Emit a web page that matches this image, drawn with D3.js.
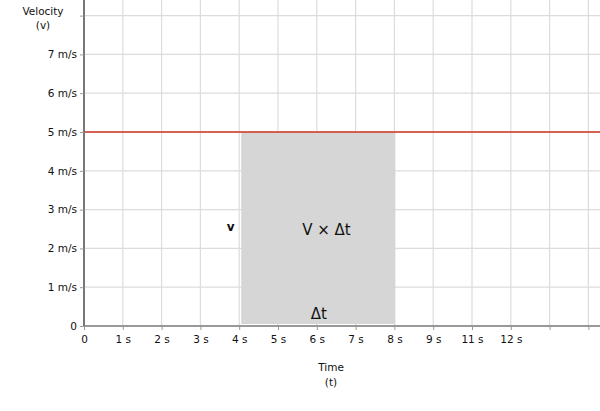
<!DOCTYPE html>
<html><head><meta charset="utf-8">
<script src="https://cdn.jsdelivr.net/npm/d3@7"></script>
<style>body{margin:0;background:#fff}svg{display:block}text{font-family:"Comic Sans MS","DejaVu Sans",sans-serif;fill:#111}</style>
</head><body><svg id="c" width="600" height="411"></svg>
<script>
const xTickLabels = ["0","1 s","2 s","3 s","4 s","5 s","6 s","7 s","8 s","9 s","11 s","12 s","",""];
const yTickLabels = ["0","1 m/s","2 m/s","3 m/s","4 m/s","5 m/s","6 m/s","7 m/s",""];
const velocity = [5];
const area = [{x0:4, x1:8, v:5}];
const annotations = [{x:3.78, y:2.55, t:"v", size:12, w:600},{x:6.25, y:2.45, t:"V \u00d7 \u0394t", size:15, w:400},{x:6.05, y:0.3, t:"\u0394t", size:15, w:400}];

const svg = d3.select("#c");
const x = d3.scaleLinear().domain([0,13]).range([84,588.4]);
const y = d3.scaleLinear().domain([0,8]).range([326,15.6]);

// grid
svg.append("g").selectAll("line").data(d3.range(1,14)).join("line")
  .attr("x1",d=>x(d)).attr("x2",d=>x(d)).attr("y1",0).attr("y2",326)
  .attr("stroke","#dcdcdc").attr("stroke-width",1.2);
svg.append("g").selectAll("line").data(d3.range(1,9)).join("line")
  .attr("x1",84).attr("x2",600).attr("y1",d=>y(d)).attr("y2",d=>y(d))
  .attr("stroke","#dcdcdc").attr("stroke-width",1.2);

// area
svg.selectAll("rect.a").data(area).join("rect")
  .attr("x",d=>x(d.x0)+2).attr("width",d=>x(d.x1)-x(d.x0)-1)
  .attr("y",d=>y(d.v)).attr("height",d=>y(0)-y(d.v)-2)
  .attr("fill","#d6d6d6");

// velocity line
svg.selectAll("line.v").data(velocity).join("line")
  .attr("x1",84).attr("x2",600).attr("y1",d=>y(d)).attr("y2",d=>y(d))
  .attr("stroke","#cc3322").attr("stroke-width",1.3);

// axes
const xa = svg.append("g").attr("transform","translate(0,326)")
  .call(d3.axisBottom(x).tickValues(d3.range(0,14)).tickFormat(i=>xTickLabels[i]).tickSize(4).tickSizeOuter(0));
xa.select(".domain").attr("d","M84,0H600").attr("stroke","#777").attr("stroke-width",1.5);
xa.selectAll(".tick line").attr("stroke","#999");
xa.selectAll("text").attr("font-size",10.5).attr("dy","0.95em").style("font-family",'"Comic Sans MS","DejaVu Sans",sans-serif');

const ya = svg.append("g").attr("transform","translate(84,0)")
  .call(d3.axisLeft(y).tickValues(d3.range(0,9)).tickFormat(i=>yTickLabels[i]).tickSize(4).tickSizeOuter(0));
ya.select(".domain").attr("d","M0,0V326").attr("stroke","#777").attr("stroke-width",2);
ya.selectAll(".tick line").attr("stroke","#999");
ya.selectAll("text").attr("font-size",10.5).style("font-family",'"Comic Sans MS","DejaVu Sans",sans-serif');

// titles
const t1 = svg.append("text").attr("x",43).attr("text-anchor","middle").attr("font-size",10.5);
t1.append("tspan").attr("x",43).attr("y",15).text("Velocity");
t1.append("tspan").attr("x",43).attr("y",29).text("(v)");
const t2 = svg.append("text").attr("text-anchor","middle").attr("font-size",10.5);
t2.append("tspan").attr("x",331).attr("y",371).text("Time");
t2.append("tspan").attr("x",331).attr("y",386).text("(t)");

svg.selectAll("text.ann").data(annotations).join("text").attr("class","ann")
  .attr("x",d=>x(d.x)).attr("y",d=>y(d.y)).attr("text-anchor","middle")
  .attr("dominant-baseline","middle").attr("font-size",d=>d.size).attr("font-weight",d=>d.w).text(d=>d.t);
</script></body></html>
